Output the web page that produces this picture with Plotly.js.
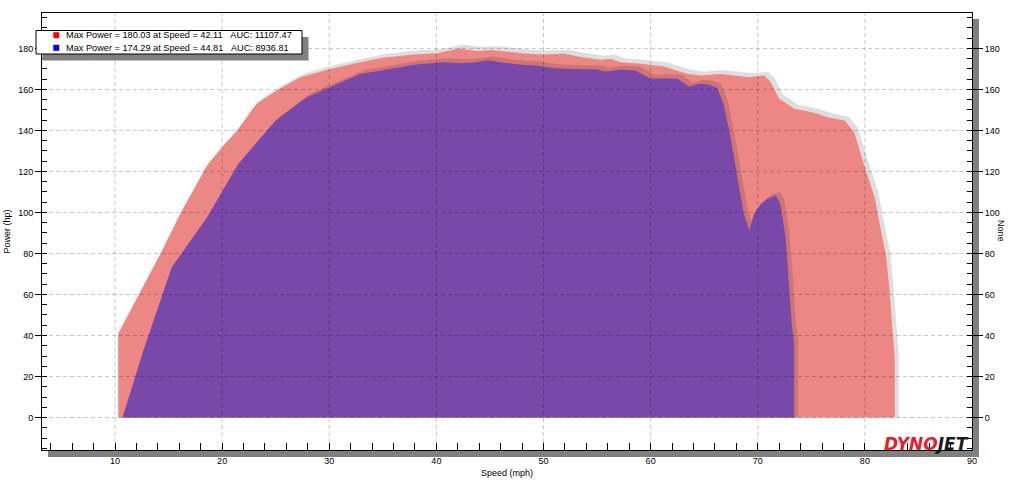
<!DOCTYPE html>
<html><head><meta charset="utf-8">
<script src="https://cdn.plot.ly/plotly-3.0.1.min.js"></script>
<style>html,body{margin:0;padding:0;background:#fff}#chart{width:1024px;height:497px}</style>
</head><body><div id="chart"></div>
<script>
// ---- data ----
const redSpeed = [10.3, 14.4, 16.1, 18.6, 20.0, 21.4, 23.2, 25.1, 27.3, 30.1, 32.9, 35.0, 37.9, 40.1, 42.1, 43.8, 45.1, 47.2, 48.5, 50.0, 51.9, 53.5, 55.3, 56.3, 57.2, 59.1, 60.0, 61.2, 62.2, 63.4, 64.7, 66.5, 69.2, 70.6, 71.2, 72.0, 73.4, 74.3, 75.6, 76.5, 78.1, 79.0, 79.9, 80.9, 81.5, 82.0, 82.3, 82.6, 82.8];
const redPower = [41, 81.5, 99.5, 123, 132, 140, 153, 159.5, 166, 170, 173.3, 175.5, 177, 177.7, 180.0, 178.8, 179.3, 178.2, 177.4, 177, 177.4, 175.8, 174.5, 175, 173.3, 172.5, 172, 171.2, 169.6, 167.7, 166.8, 167.6, 166, 166.8, 163.6, 155.5, 150.6, 149.8, 148.1, 146.5, 144.9, 139.2, 123.7, 107.5, 91.2, 78.2, 62, 40.8, 27.8];
const blueSpeed = [10.7, 12.65, 15.3, 18.6, 21.5, 25.0, 27.9, 30.1, 32.9, 36.6, 37.9, 40.7, 42.4, 43.8, 44.8, 46.0, 47.9, 49.4, 51.0, 53.5, 55.0, 55.8, 57.2, 58.6, 60.0, 61.2, 62.5, 63.6, 64.5, 65.3, 66.2, 66.8, 67.4, 68.1, 68.7, 69.2, 69.65, 70.3, 70.9, 71.7, 72.1, 72.6, 72.9, 73.2, 73.4];
const bluePower = [0, 32.7, 73.3, 97.7, 123.7, 144.9, 156.2, 161.1, 167.6, 170.9, 172, 173.3, 172.8, 173.3, 174.3, 173.3, 172, 171.7, 170.4, 169.9, 169.9, 168.8, 169.8, 169.3, 165.2, 165.5, 165.2, 161.3, 162.8, 162.5, 160.8, 153, 138.4, 117.2, 99.4, 91.2, 99.4, 104.2, 106.7, 108.3, 104.2, 88, 65.2, 44, 36];
const legendLabels = ['Max Power = 180.03 at Speed = 42.11\u00a0\u00a0\u00a0AUC: 11107.47',
                      'Max Power = 174.29 at Speed = 44.81\u00a0\u00a0\u00a0AUC: 8936.81'];
const legendColors = ['#ff0000', '#0000ff'];
const xGrid = [10, 20, 30, 40, 50, 60, 70, 80];
const yGrid = [0, 20, 40, 60, 80, 100, 120, 140, 160, 180];

// ---- layout geometry ----
const W = 1024, H = 497, L = 42, R = 52, T = 13, B = 47;
const PW = W - L - R, PH = H - T - B;
const px = v => (v - L) / PW;
const py = v => (H - B - v) / PH;
const XR = [3.186, 90.0001], YR = [-15.85, 197.3];
const SDX = 4 * (XR[1] - XR[0]) / PW, SDY = 4 * (YR[1] - YR[0]) / PH;

const FONT = 'Liberation Sans, Arial, sans-serif';
const SHADOW = 'rgba(0,0,0,0.13)';

function area(xs, ys, color, shadow) {
  return {
    type: 'scatter', mode: 'lines',
    x: shadow ? xs.map(v => v + SDX) : xs,
    y: shadow ? ys.map(v => v + SDY) : ys,
    fill: 'tozeroy', fillcolor: color,
    line: {width: 0, color: color},
    hoverinfo: 'skip', showlegend: false
  };
}
function axisHolder(ax) {
  return {type: 'scatter', mode: 'lines', x: [null], y: [null], yaxis: ax, hoverinfo: 'skip', showlegend: false};
}
const traces = [
  area(redSpeed, redPower, SHADOW, true),
  area(redSpeed, redPower, 'rgb(236,135,133)', false),
  area(blueSpeed, bluePower, SHADOW, true),
  area(blueSpeed, bluePower, 'rgb(122,72,168)', false),
  axisHolder('y2'), axisHolder('y3'), axisHolder('y4')
];

const shapes = [];
// frame shadow
shapes.push({type:'rect', xref:'paper', yref:'paper', x0:px(48), x1:px(979), y0:py(451), y1:py(457), fillcolor:'#808080', line:{width:0}, layer:'below'});
shapes.push({type:'rect', xref:'paper', yref:'paper', x0:px(973), x1:px(979), y0:py(19), y1:py(457), fillcolor:'#808080', line:{width:0}, layer:'below'});
// dashed grid above the fills
xGrid.forEach(v => shapes.push({type:'line', xref:'x', yref:'paper', x0:v, x1:v, y0:0, y1:1, line:{color:'rgba(0,0,0,0.22)', width:1, dash:'4px,3px'}, layer:'above'}));
yGrid.forEach(v => shapes.push({type:'line', xref:'paper', yref:'y', x0:0, x1:1, y0:v, y1:v, line:{color:'rgba(0,0,0,0.22)', width:1, dash:'4px,3px'}, layer:'above'}));
// legend box with shadow
shapes.push({type:'rect', xref:'paper', yref:'paper', x0:px(42.5), x1:px(308.5), y0:py(60.5), y1:py(37), fillcolor:'#808080', line:{width:0}, layer:'above'});
shapes.push({type:'rect', xref:'paper', yref:'paper', x0:px(36), x1:px(302), y0:py(54), y1:py(30.5), fillcolor:'#ffffff', line:{width:1, color:'#000'}, layer:'above'});
const annotations = [];
legendLabels.forEach((t, i) => {
  const cy = 35.2 + i * 12.6;
  shapes.push({type:'rect', xref:'paper', yref:'paper', x0:px(53.3), x1:px(59.3), y0:py(cy + 3), y1:py(cy - 3), fillcolor:legendColors[i], line:{width:0}, layer:'above'});
  annotations.push({xref:'paper', yref:'paper', x:px(63.5), y:py(cy), xanchor:'left', yanchor:'middle', text:t, showarrow:false, font:{family:FONT, size:9.2, color:'#000'}});
});
annotations.push({xref:'paper', yref:'paper', x:px(1008), y:py(231), textangle:90, text:'None', showarrow:false, font:{family:FONT, size:9, color:'#000'}});
annotations.push({xref:'paper', yref:'paper', x:px(971), y:py(443.5), xanchor:'right', yanchor:'middle', showarrow:false,
  text:'<span style="color:#e3202b">DYNO</span><span style="color:#1b1b1b">JET</span>',
  font:{family:'DejaVu Sans, sans-serif', size:17, weight:900, style:'italic'}});

const tickFont = {family: FONT, size: 9, color: '#000'};
const layout = {
  width: W, height: H,
  margin: {l: L, r: R, t: T, b: B, pad: 0},
  paper_bgcolor: '#fff', plot_bgcolor: '#fff',
  showlegend: false,
  xaxis: {range: XR, tickmode: 'linear', tick0: 0, dtick: 10, ticks: 'inside', ticklen: 7, tickcolor: '#000',
    minor: {dtick: 2, ticks: 'inside', ticklen: 7, tickcolor: '#000'},
    showline: true, linecolor: '#000', linewidth: 1, mirror: true, showgrid: false, zeroline: false,
    tickfont: tickFont, ticklabelstandoff: 2,
    title: {text: 'Speed (mph)', font: {family: FONT, size: 9, color: '#000'}, standoff: 4}},
  yaxis: {range: YR, tickmode: 'linear', tick0: 0, dtick: 20, ticks: 'outside', ticklen: 6, tickcolor: '#000',
    showline: true, linecolor: '#000', linewidth: 1, showgrid: false, zeroline: false,
    tickfont: tickFont,
    title: {text: 'Power (hp)', font: {family: FONT, size: 9, color: '#000'}, standoff: 6}},
  yaxis3: {range: YR, overlaying: 'y', side: 'left', tickmode: 'linear', tick0: 0, dtick: 5, ticks: 'inside', ticklen: 5, tickcolor: '#000',
    showticklabels: false, showline: false, showgrid: false, zeroline: false},
  yaxis2: {range: YR, overlaying: 'y', side: 'right', tickmode: 'linear', tick0: 0, dtick: 20, ticks: 'outside', ticklen: 10, tickcolor: '#000',
    showline: true, linecolor: '#000', linewidth: 1, showgrid: false, zeroline: false, tickfont: tickFont},
  yaxis4: {range: YR, overlaying: 'y', side: 'right', tickmode: 'linear', tick0: 0, dtick: 5, ticks: 'inside', ticklen: 5, tickcolor: '#000',
    showticklabels: false, showline: false, showgrid: false, zeroline: false},
  shapes: shapes,
  annotations: annotations
};
Plotly.newPlot('chart', traces, layout, {displayModeBar: false, staticPlot: true});
</script></body></html>
